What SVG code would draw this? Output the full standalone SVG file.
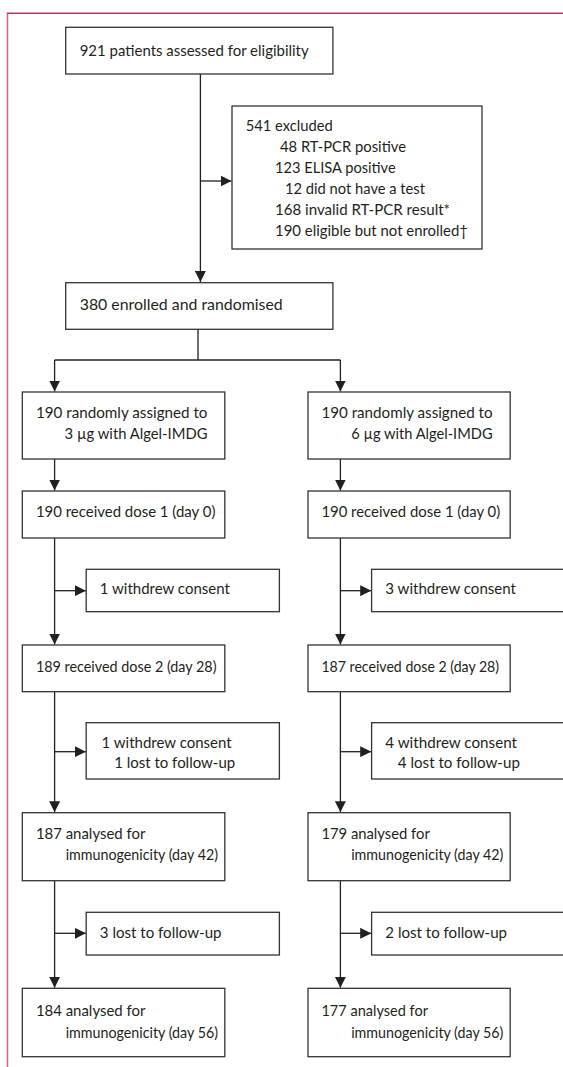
<svg xmlns="http://www.w3.org/2000/svg" width="563" height="1067" viewBox="0 0 563 1067">
<style>
.bx{fill:#fff;stroke:#333;stroke-width:1.3}
.t{font-family:Lato,"Liberation Sans",sans-serif;font-size:15.3px;fill:#231f20}
.c{fill:none;stroke:#231f20;stroke-width:1.3}
.frameT{fill:none;stroke:#c0305c;stroke-width:1.5}
.frameL{fill:none;stroke:#dc5f88;stroke-width:1.5}
</style>
<defs>
<marker id="ah" markerUnits="userSpaceOnUse" markerWidth="11" markerHeight="11" refX="11" refY="5.5" orient="auto">
<path d="M0,0 L11,5.5 L0,11 z" fill="#231f20"/>
</marker>
</defs>
<rect width="563" height="1067" fill="#fff"/>
<path class="frameL" d="M7.5,1067 V13.3"/>
<path class="frameT" d="M6.8,13.3 H563"/>

<g id="connectors">
<path class="c" d="M200.4,74 V282" marker-end="url(#ah)"/>
<path class="c" d="M200.4,181 H231.5" marker-end="url(#ah)"/>
<path class="c" d="M198,329.3 V360 M54.6,360 H340.4"/>
<path class="c" d="M54.6,360 V391.5" marker-end="url(#ah)"/>
<path class="c" d="M340.4,360 V391.5" marker-end="url(#ah)"/>
<path class="c" d="M54.6,459 V490.5" marker-end="url(#ah)"/>
<path class="c" d="M340.4,459 V490.5" marker-end="url(#ah)"/>
<path class="c" d="M54.6,538 V644.5" marker-end="url(#ah)"/>
<path class="c" d="M340.4,538 V644.5" marker-end="url(#ah)"/>
<path class="c" d="M54.6,590.7 H85.8" marker-end="url(#ah)"/>
<path class="c" d="M340.4,590.7 H371.2" marker-end="url(#ah)"/>
<path class="c" d="M54.6,691.7 V812.2" marker-end="url(#ah)"/>
<path class="c" d="M340.4,691.7 V812.2" marker-end="url(#ah)"/>
<path class="c" d="M54.6,751.7 H85.8" marker-end="url(#ah)"/>
<path class="c" d="M340.4,751.7 H371.2" marker-end="url(#ah)"/>
<path class="c" d="M54.6,880.7 V987.8" marker-end="url(#ah)"/>
<path class="c" d="M340.4,880.7 V987.8" marker-end="url(#ah)"/>
<path class="c" d="M54.6,933.3 H85.8" marker-end="url(#ah)"/>
<path class="c" d="M340.4,933.3 H371.2" marker-end="url(#ah)"/>
</g>

<g id="assessed">
<rect class="bx" x="65.7" y="27.3" width="267.2" height="46.7"/>
<text class="t" x="79.7" y="56" textLength="229" lengthAdjust="spacingAndGlyphs">921 patients assessed for eligibility</text>
</g>

<g id="excluded">
<rect class="bx" x="232" y="106" width="250" height="143"/>
<text class="t" x="245.7" y="131" textLength="87" lengthAdjust="spacingAndGlyphs">541 excluded</text>
<text class="t" x="280" y="152" textLength="126" lengthAdjust="spacingAndGlyphs">48 RT-PCR positive</text>
<text class="t" x="275" y="173" textLength="120.7" lengthAdjust="spacingAndGlyphs">123 ELISA positive</text>
<text class="t" x="285" y="194" textLength="140" lengthAdjust="spacingAndGlyphs">12 did not have a test</text>
<text class="t" x="275" y="215" textLength="175" lengthAdjust="spacingAndGlyphs">168 invalid RT-PCR result*</text>
<text class="t" x="275" y="236" textLength="193" lengthAdjust="spacingAndGlyphs">190 eligible but not enrolled†</text>
</g>

<g id="enrolled">
<rect class="bx" x="65.7" y="282.7" width="267.2" height="46.6"/>
<text class="t" x="79.7" y="310" textLength="203" lengthAdjust="spacingAndGlyphs">380 enrolled and randomised</text>
</g>

<g id="assigned3">
<rect class="bx" x="22.3" y="392" width="202.5" height="67"/>
<text class="t" x="35.9" y="418.3" textLength="171.6" lengthAdjust="spacingAndGlyphs">190 randomly assigned to</text>
<text class="t" x="64.6" y="439" textLength="142.9" lengthAdjust="spacingAndGlyphs">3 µg with Algel-IMDG</text>
</g>

<g id="assigned6">
<rect class="bx" x="308" y="392" width="202.2" height="67"/>
<text class="t" x="321.4" y="418.3" textLength="171.2" lengthAdjust="spacingAndGlyphs">190 randomly assigned to</text>
<text class="t" x="351.2" y="439" textLength="141.4" lengthAdjust="spacingAndGlyphs">6 µg with Algel-IMDG</text>
</g>

<g id="dose1-left">
<rect class="bx" x="22.3" y="491" width="202.5" height="47"/>
<text class="t" x="35.9" y="517.3" textLength="179.5" lengthAdjust="spacingAndGlyphs">190 received dose 1 (day 0)</text>
</g>

<g id="dose1-right">
<rect class="bx" x="308" y="491" width="202.2" height="47"/>
<text class="t" x="321.4" y="517.3" textLength="178.8" lengthAdjust="spacingAndGlyphs">190 received dose 1 (day 0)</text>
</g>

<g id="withdrew1-left">
<rect class="bx" x="86.2" y="569.3" width="193.2" height="42.4"/>
<text class="t" x="99.8" y="594" textLength="130" lengthAdjust="spacingAndGlyphs">1 withdrew consent</text>
</g>

<g id="withdrew1-right">
<rect class="bx" x="371.6" y="569.3" width="220" height="42.4"/>
<text class="t" x="385.3" y="594" textLength="130.7" lengthAdjust="spacingAndGlyphs">3 withdrew consent</text>
</g>

<g id="dose2-left">
<rect class="bx" x="22.3" y="645" width="202.5" height="46.7"/>
<text class="t" x="35.9" y="671.5" textLength="180.6" lengthAdjust="spacingAndGlyphs">189 received dose 2 (day 28)</text>
</g>

<g id="dose2-right">
<rect class="bx" x="308" y="645" width="202.2" height="46.7"/>
<text class="t" x="321.4" y="671.5" textLength="177.7" lengthAdjust="spacingAndGlyphs">187 received dose 2 (day 28)</text>
</g>

<g id="withdrew2-left">
<rect class="bx" x="86.2" y="722.7" width="193.2" height="56.3"/>
<text class="t" x="101.6" y="747.5" textLength="130" lengthAdjust="spacingAndGlyphs">1 withdrew consent</text>
<text class="t" x="114.2" y="768" textLength="121" lengthAdjust="spacingAndGlyphs">1 lost to follow-up</text>
</g>

<g id="withdrew2-right">
<rect class="bx" x="371.6" y="722.7" width="220" height="56.3"/>
<text class="t" x="385.3" y="747.5" textLength="131.7" lengthAdjust="spacingAndGlyphs">4 withdrew consent</text>
<text class="t" x="397.8" y="768" textLength="122.1" lengthAdjust="spacingAndGlyphs">4 lost to follow-up</text>
</g>

<g id="day42-left">
<rect class="bx" x="22.3" y="812.7" width="202.5" height="68"/>
<text class="t" x="35.9" y="839" textLength="109.5" lengthAdjust="spacingAndGlyphs">187 analysed for</text>
<text class="t" x="65.7" y="859.5" textLength="152.3" lengthAdjust="spacingAndGlyphs">immunogenicity (day 42)</text>
</g>

<g id="day42-right">
<rect class="bx" x="308" y="812.7" width="202.2" height="68"/>
<text class="t" x="321.4" y="839" textLength="108.4" lengthAdjust="spacingAndGlyphs">179 analysed for</text>
<text class="t" x="351.2" y="859.5" textLength="152.2" lengthAdjust="spacingAndGlyphs">immunogenicity (day 42)</text>
</g>

<g id="lost3-left">
<rect class="bx" x="86.2" y="912.3" width="193.2" height="42.7"/>
<text class="t" x="99.8" y="938" textLength="121.7" lengthAdjust="spacingAndGlyphs">3 lost to follow-up</text>
</g>

<g id="lost3-right">
<rect class="bx" x="371.6" y="912.3" width="220" height="42.7"/>
<text class="t" x="385.3" y="938" textLength="121.7" lengthAdjust="spacingAndGlyphs">2 lost to follow-up</text>
</g>

<g id="day56-left">
<rect class="bx" x="22.3" y="988.3" width="202.5" height="68.4"/>
<text class="t" x="35.9" y="1016" textLength="109.5" lengthAdjust="spacingAndGlyphs">184 analysed for</text>
<text class="t" x="65.7" y="1038" textLength="152.3" lengthAdjust="spacingAndGlyphs">immunogenicity (day 56)</text>
</g>

<g id="day56-right">
<rect class="bx" x="308" y="988.3" width="202.2" height="68.4"/>
<text class="t" x="321.4" y="1016" textLength="106.6" lengthAdjust="spacingAndGlyphs">177 analysed for</text>
<text class="t" x="351.2" y="1038" textLength="152.2" lengthAdjust="spacingAndGlyphs">immunogenicity (day 56)</text>
</g>
</svg>
